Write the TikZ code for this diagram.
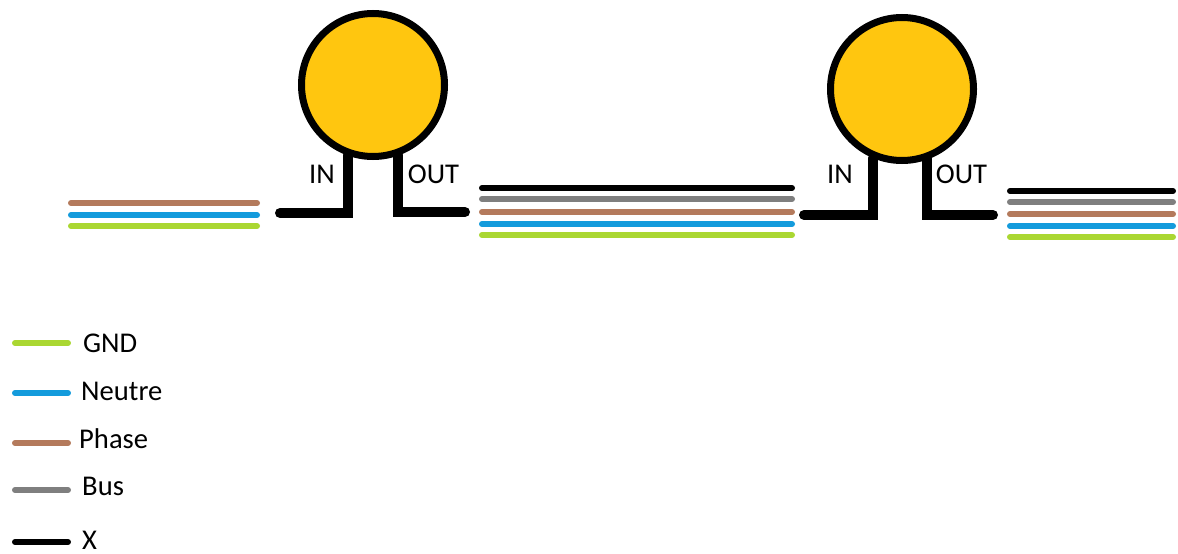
\documentclass[tikz,border=0pt]{standalone}
\usepackage{fontspec}
\setmainfont{Carlito}
\definecolor{lampFill}{RGB}{255,198,15}
\definecolor{wireGnd}{RGB}{170,215,50}
\definecolor{wireNeutre}{RGB}{20,155,220}
\definecolor{wirePhase}{RGB}{180,122,92}
\definecolor{wireBus}{RGB}{127,127,127}
\definecolor{wireX}{RGB}{0,0,0}
\begin{document}
\begin{tikzpicture}
[x=1pt,y=-1pt,%
  wireDecorate/.style={-,line width=6pt,line cap=round},%
  legDecorate/.style={-,line width=10pt,line cap=round,line join=miter,black},%
  lampDecorate/.style={shape=circle,inner sep=0pt,minimum size=143pt,draw=black,line width=7pt,fill=lampFill},%
  textDecorate/.style={inner sep=0pt,font=\fontsize{28.6}{29}\selectfont}]
\useasboundingbox (0,0) rectangle (1178,554);
%% wires
\foreach \wname/\xa/\xb/\y/\col in {
  la/71/257/203/wirePhase, lb/71/257/215/wireNeutre, lc/71/257/226/wireGnd,
  ma/482/792/188/wireX, mb/482/792/199/wireBus, mc/482/792/212/wirePhase,
  md/482/792/224/wireNeutre, me/482/792/235/wireGnd,
  ra/1010/1173/191/wireX, rb/1010/1173/202/wireBus, rc/1010/1173/214/wirePhase,
  rd/1010/1173/226/wireNeutre, re/1010/1173/237/wireGnd}
{
  \coordinate (\wname s) at (\xa,\y);
  \coordinate (\wname e) at (\xb,\y);
  \draw[wireDecorate,draw=\col] (\wname s) -- (\wname e);
}
%% lamp legs
\foreach \lname/\x/\y/\xin/\yin in {
  ainl/347.5/155/280/213, aoutl/398/155/465/212,
  binl/873/158/804/215, boutl/926.5/158/993/215}
{
  \coordinate (\lname t) at (\x,\y);
  \coordinate (\lname f) at (\xin,\yin);
  \draw[legDecorate] (\lname t) |- (\lname f);
}
%% lamps
\node (lampa) at (373,85) [lampDecorate] {};
\node (lampb) at (902,89) [lampDecorate] {};
%% lamp labels
\foreach \tname/\x/\y/\txt in {
  ina/322/183/IN, outa/433.5/183/OUT, inb/840/183/IN, outb/961.5/183/OUT}
{
  \node (\tname) at (\x,\y) [textDecorate,anchor=base] {\txt};
}
%% legend
\foreach \kname/\x/\y/\ty/\col/\txt in {
  gnd/83/343/352/wireGnd/GND, neutre/81/393/400/wireNeutre/Neutre,
  phase/79/443/448/wirePhase/Phase, bus/82/490/495/wireBus/Bus,
  xw/82/542/549/wireX/X}
{
  \coordinate (\kname s) at (15,\y);
  \coordinate (\kname e) at (68,\y);
  \draw[wireDecorate,draw=\col] (\kname s) -- (\kname e);
  \node (\kname) at (\x,\ty) [textDecorate,anchor=base west] {\txt};
}
\end{tikzpicture}
\end{document}
